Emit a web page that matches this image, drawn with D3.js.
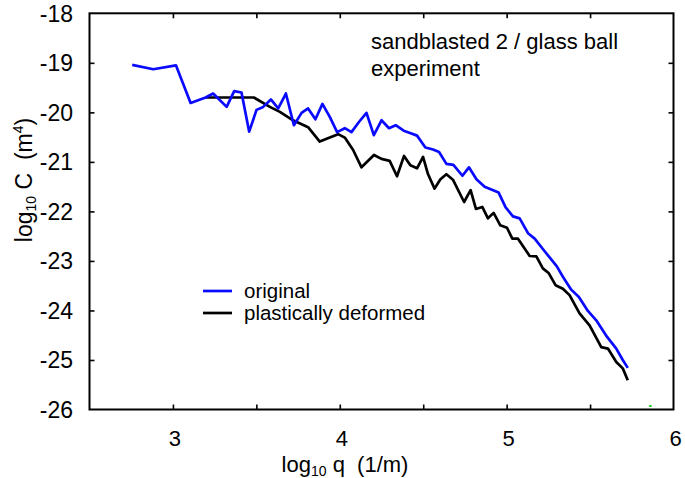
<!DOCTYPE html>
<html>
<head>
<meta charset="utf-8">
<script src="https://cdn.jsdelivr.net/npm/d3@7"></script>
<style>
  html, body { margin: 0; padding: 0; background: #fff; }
  svg text { font-family: "Liberation Sans", Arial, Helvetica, sans-serif; fill: #000; white-space: pre; }
</style>
</head>
<body>
<svg id="chart" width="685" height="478"></svg>
<script>
// ---- data ----
const originalQ = [2.756,2.882,3.018,3.106,3.196,3.241,3.322,3.367,3.411,3.457,3.501,3.541,3.587,3.631,3.677,3.725,3.771,3.810,3.854,3.896,3.940,3.984,4.030,4.070,4.116,4.160,4.204,4.250,4.295,4.335,4.383,4.425,4.463,4.513,4.559,4.595,4.639,4.681,4.735,4.774,4.819,4.868,4.952,4.994,5.038,5.078,5.128,5.168,5.217,5.301,5.337,5.387,5.433,5.487,5.537,5.601,5.657,5.696,5.726];
const originalC = [-19.04,-19.13,-19.05,-19.81,-19.70,-19.62,-19.89,-19.57,-19.60,-20.39,-19.95,-19.89,-19.74,-19.92,-19.62,-20.26,-20.01,-19.92,-20.14,-19.83,-20.09,-20.40,-20.32,-20.40,-20.19,-20.01,-20.46,-20.16,-20.32,-20.26,-20.37,-20.42,-20.47,-20.71,-20.75,-20.80,-21.04,-21.06,-21.28,-21.11,-21.35,-21.50,-21.62,-21.92,-22.10,-22.14,-22.44,-22.55,-22.76,-23.11,-23.32,-23.58,-23.73,-24.01,-24.20,-24.53,-24.77,-25.00,-25.16];

const deformedQ = [3.196,3.485,3.581,3.641,3.720,3.810,3.880,3.940,3.990,4.030,4.080,4.130,4.205,4.250,4.299,4.343,4.385,4.423,4.463,4.499,4.529,4.568,4.603,4.639,4.678,4.745,4.784,4.816,4.854,4.888,4.922,4.962,5.002,5.034,5.068,5.138,5.178,5.217,5.253,5.293,5.337,5.377,5.437,5.497,5.567,5.607,5.657,5.696,5.726];
const deformedC = [-19.70,-19.70,-19.89,-19.99,-20.16,-20.30,-20.59,-20.51,-20.44,-20.51,-20.76,-21.11,-20.86,-20.94,-20.98,-21.29,-20.88,-21.07,-21.13,-20.90,-21.25,-21.54,-21.35,-21.25,-21.36,-21.81,-21.57,-21.95,-21.91,-22.14,-22.03,-22.28,-22.33,-22.55,-22.55,-22.90,-22.91,-23.15,-23.25,-23.49,-23.56,-23.69,-24.06,-24.30,-24.74,-24.77,-25.04,-25.17,-25.41];

const strayQ = [5.86];
const strayC = [-25.93];

const xTickValues = [3, 3.5, 4, 4.5, 5, 5.5];
const xTickLabels = [3, 4, 5, 6];
const yTickValues = [-18, -19, -20, -21, -22, -23, -24, -25, -26];

const seriesNames = ["original", "plastically deformed"];
const seriesColors = ["#0a0aff", "#000000"];
const annotationLines = ["sandblasted 2 / glass ball", "experiment"];

// ---- layout ----
const svg = d3.select("#chart");
const m = { left: 89.5, top: 13.3, right: 685 - 673.5, bottom: 478 - 409.5 };
const W = 685 - m.left - m.right, H = 478 - m.top - m.bottom;

const x = d3.scaleLinear().domain([2.5, 6]).range([m.left, m.left + W]);
const y = d3.scaleLinear().domain([-26, -18]).range([m.top + H, m.top]);

const g = svg.append("g");
const tickLen = 5;

const bottomAxis = d3.axisBottom(x).tickValues(xTickValues).tickSizeInner(-tickLen).tickSizeOuter(0).tickFormat("");
const topAxis = d3.axisTop(x).tickValues(xTickValues).tickSizeInner(-tickLen).tickSizeOuter(0).tickFormat("");
const leftAxis = d3.axisLeft(y).tickValues(yTickValues.slice(1, -1)).tickSizeInner(-tickLen).tickSizeOuter(0).tickFormat("");
const rightAxis = d3.axisRight(y).tickValues(yTickValues.slice(1, -1)).tickSizeInner(-tickLen).tickSizeOuter(0).tickFormat("");

function styleAxis(sel) {
  sel.select(".domain").remove();
  sel.selectAll(".tick line").attr("stroke", "#000").attr("stroke-width", 1.6);
}
g.append("g").attr("transform", `translate(0,${m.top + H})`).call(bottomAxis).call(styleAxis);
g.append("g").attr("transform", `translate(0,${m.top})`).call(topAxis).call(styleAxis);
g.append("g").attr("transform", `translate(${m.left},0)`).call(leftAxis).call(styleAxis);
g.append("g").attr("transform", `translate(${m.left + W},0)`).call(rightAxis).call(styleAxis);

// tick labels
g.selectAll(".xlab").data(xTickLabels).enter().append("text")
  .attr("x", d => x(d) + 2).attr("y", 446)
  .attr("text-anchor", "middle").attr("font-size", 22).text(d => d);
g.selectAll(".ylab").data(yTickValues).enter().append("text")
  .attr("x", 73).attr("y", d => y(d)).attr("dy", "0.36em")
  .attr("text-anchor", "end").attr("font-size", 23).text(d => d);

// lines
const line = d3.line().x(d => x(d[0])).y(d => y(d[1]));
const orig = originalQ.map((q, i) => [q, originalC[i]]);
const defo = deformedQ.map((q, i) => [q, deformedC[i]]);
g.append("path").datum(defo).attr("d", line).attr("fill", "none")
  .attr("stroke", seriesColors[1]).attr("stroke-width", 2.7).attr("stroke-linejoin", "round");
g.append("path").datum(orig).attr("d", line).attr("fill", "none")
  .attr("stroke", seriesColors[0]).attr("stroke-width", 2.7).attr("stroke-linejoin", "round");

g.selectAll(".stray").data(strayQ).enter().append("rect")
  .attr("x", (d) => x(d) - 1).attr("y", (d, i) => y(strayC[i]) - 1)
  .attr("width", 2.5).attr("height", 2).attr("fill", "#22cc22");

// frame
g.append("rect").attr("x", m.left).attr("y", m.top).attr("width", W).attr("height", H)
  .attr("fill", "none").attr("stroke", "#000").attr("stroke-width", 2);

// axis titles
const xt = g.append("text").attr("x", 345).attr("y", 472).attr("text-anchor", "middle").attr("font-size", 22);
xt.append("tspan").text("log");
xt.append("tspan").attr("font-size", 14).attr("dy", 4).text("10");
xt.append("tspan").attr("dy", -4).text(" q\u00a0\u00a0(1/m)");

const yt = g.append("text").attr("transform", "translate(32,180) rotate(-90)")
  .attr("text-anchor", "middle").attr("font-size", 23);
yt.append("tspan").text("log");
yt.append("tspan").attr("font-size", 14).attr("dy", 4).text("10");
yt.append("tspan").attr("dy", -4).text(" C\u00a0\u00a0(m");
yt.append("tspan").attr("font-size", 14).attr("dy", -9).text("4");
yt.append("tspan").attr("dy", 9).text(")");

// annotation
g.selectAll(".ann").data(annotationLines).enter().append("text")
  .attr("x", 371).attr("y", (d, i) => 48.5 + i * 27)
  .attr("font-size", 22).text(d => d);

// legend
const leg = g.selectAll(".leg").data(seriesNames).enter().append("g")
  .attr("transform", (d, i) => `translate(0,${291 + i * 22})`);
leg.append("line").attr("x1", 203).attr("x2", 232).attr("y1", 0).attr("y2", 0)
  .attr("stroke", (d, i) => seriesColors[i]).attr("stroke-width", 2.7);
leg.append("text").attr("x", 244).attr("y", 0).attr("dy", "0.33em")
  .attr("font-size", 20.5).text(d => d);
</script>
</body>
</html>
